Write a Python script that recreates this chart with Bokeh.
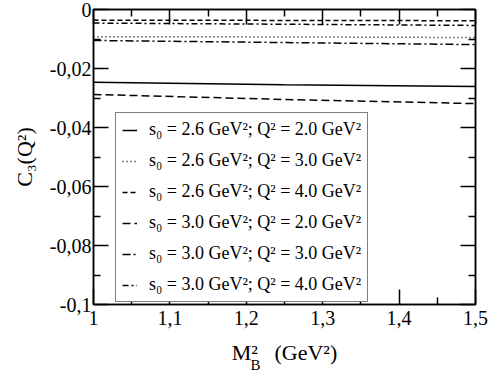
from bokeh.plotting import figure
from bokeh.models import (LinearAxis, FixedTicker, Legend, LegendItem, Label)
from bokeh.embed import file_html
from bokeh.resources import INLINE

# ---- data ----
mb2 = [1.0, 1.25, 1.5]
c3_s26_q20 = [-0.0247, -0.0255, -0.0261]
c3_s26_q30 = [-0.0092, -0.0093, -0.0095]
c3_s26_q40 = [-0.0036, -0.0037, -0.0038]
c3_s30_q20 = [-0.0288, -0.0305, -0.0319]
c3_s30_q30 = [-0.0105, -0.0112, -0.0119]
c3_s30_q40 = [-0.0046, -0.0050, -0.0054]

series_labels = [
    "s\u2080 = 2.6 GeV\u00b2; Q\u00b2 = 2.0 GeV\u00b2",
    "s\u2080 = 2.6 GeV\u00b2; Q\u00b2 = 3.0 GeV\u00b2",
    "s\u2080 = 2.6 GeV\u00b2; Q\u00b2 = 4.0 GeV\u00b2",
    "s\u2080 = 3.0 GeV\u00b2; Q\u00b2 = 2.0 GeV\u00b2",
    "s\u2080 = 3.0 GeV\u00b2; Q\u00b2 = 3.0 GeV\u00b2",
    "s\u2080 = 3.0 GeV\u00b2; Q\u00b2 = 4.0 GeV\u00b2",
]
series_values = [c3_s26_q20, c3_s26_q30, c3_s26_q40, c3_s30_q20, c3_s30_q30, c3_s30_q40]
series_dash = ["solid", "1 3", "5 3", "8 4", "8 3 2 3", "6 3 2 3"]

x_ticks = [1.0, 1.1, 1.2, 1.3, 1.4, 1.5]
x_tick_labels = ["1", "1,1", "1,2", "1,3", "1,4", "1,5"]
x_minor = [1.05, 1.15, 1.25, 1.35, 1.45]
y_ticks = [0.0, -0.02, -0.04, -0.06, -0.08, -0.1]
y_tick_labels = ["0", "-0,02", "-0,04", "-0,06", "-0,08", "-0,1"]
y_minor = [-0.01, -0.03, -0.05, -0.07, -0.09]

x_title = "M\u00b2\u00a0\u00a0\u00a0(GeV\u00b2)"
x_title_sub = "B"
y_title = "C\u2083(Q\u00b2)"

FONT = "Liberation Serif"

p = figure(width=491, height=371, x_range=(1.0, 1.5), y_range=(-0.1, 0.0),
           output_backend="svg", toolbar_location=None,
           min_border_left=93, min_border_right=16, min_border_top=9, min_border_bottom=67,
           x_axis_type=None, y_axis_type=None)
p.xgrid.visible = False
p.ygrid.visible = False
p.outline_line_color = "black"
p.outline_line_width = 1.5
p.background_fill_color = "white"
p.border_fill_color = "white"

def make_axis(ticks, minor, labels, show, standoff):
    ax = LinearAxis(ticker=FixedTicker(ticks=ticks, minor_ticks=minor))
    ax.major_label_overrides = {t: l for t, l in zip(ticks, labels)} if show else {t: "" for t in ticks}
    ax.major_tick_in = 15
    ax.major_tick_out = 0
    ax.minor_tick_in = 7
    ax.minor_tick_out = 0
    ax.axis_line_width = 1.5
    ax.major_tick_line_width = 1.5
    ax.minor_tick_line_width = 1.5
    ax.major_label_text_font = FONT
    ax.major_label_text_font_size = "20px" if show else "0px"
    ax.major_label_text_color = "black"
    ax.major_label_standoff = standoff if show else 0
    ax.axis_label_text_font = FONT
    ax.axis_label_text_font_size = "22px"
    ax.axis_label_text_font_style = "normal"
    ax.axis_label_text_color = "black"
    return ax

xb = make_axis(x_ticks, x_minor, x_tick_labels, True, 6)
xb.axis_label = x_title
xb.axis_label_standoff = 12
p.add_layout(xb, "below")
p.add_layout(make_axis(x_ticks, x_minor, x_tick_labels, False, 0), "above")
yl = make_axis(y_ticks, y_minor, y_tick_labels, True, 2)
yl.axis_label = y_title
yl.axis_label_standoff = 10
p.add_layout(yl, "left")
p.add_layout(make_axis(y_ticks, y_minor, y_tick_labels, False, 0), "right")

items = []
for lab_text, vals, dash in zip(series_labels, series_values, series_dash):
    r = p.line(mb2, vals, line_color="black", line_width=1.5, line_dash=dash)
    items.append(LegendItem(label=lab_text, renderers=[r]))

legend = Legend(items=items, location=(22, 2))
legend.label_text_font = FONT
legend.label_text_font_size = "18px"
legend.label_text_color = "black"
legend.glyph_width = 15
legend.glyph_height = 20
legend.label_height = 20
legend.spacing = 10
legend.padding = 6
legend.margin = 0
legend.label_standoff = 12
legend.border_line_color = "black"
legend.border_line_width = 1.5
legend.background_fill_color = "white"
legend.background_fill_alpha = 1.0
p.add_layout(legend)

# subscript B of the x title: a label held in the (narrow) right side panel so it is not clipped
p.add_layout(Label(x=-225, y=-60, x_units="screen", y_units="screen", text=x_title_sub,
                   text_font=FONT, text_font_size="15px", text_color="black",
                   text_baseline="alphabetic", text_align="left"), "right")

open("out.html", "w").write(file_html(p, INLINE))
